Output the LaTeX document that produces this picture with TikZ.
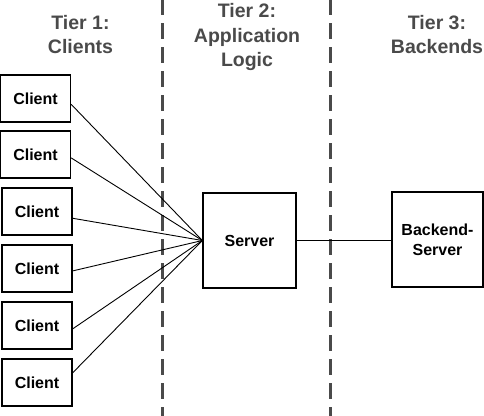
\documentclass[tikz,border=0pt]{standalone}
\usepackage{fontspec}
\setmainfont{Liberation Sans}
\usetikzlibrary{calc}
\definecolor{tiergray}{HTML}{4A4A4A}
\tikzset{
  box/.style={draw=black, line width=1.3pt, fill=white, inner sep=0pt,
    font=\fontsize{16}{20}\selectfont\bfseries, align=center},
  clientbox/.style={box, minimum width=70pt, minimum height=47pt},
  bigbox/.style={box, minimum width=92pt, minimum height=95pt},
  tier/.style={text=tiergray, inner sep=0pt, anchor=north, align=center,
    font=\fontsize{19.5}{24.5}\selectfont\bfseries},
  sep/.style={draw=tiergray, line width=3pt, dash pattern=on 16pt off 8pt},
  link/.style={draw=black, line width=0.9pt}
}
\begin{document}
\begin{tikzpicture}[x=1pt, y=-1pt]
\useasboundingbox (0,0) rectangle (484,415);
\fill[white] (0,0) rectangle (484,415);
% separators
\coordinate (s1t) at (162.5,-1);
\coordinate (s1b) at (162.5,416);
\coordinate (s2t) at (330,-1);
\coordinate (s2b) at (330,416);
\draw[sep] (s1t) -- (s1b);
\draw[sep] (s2t) -- (s2b);
% tier labels
\node[tier] (t1) at (80.5,15) {Tier 1:\\Clients};
\node[tier] (t2) at (247,3.5) {Tier 2:\\Application\\Logic};
\node[tier] (t3) at (437,15) {Tier 3:\\Backends};
% clients
\node[clientbox] (c1) at (35.5,98.5) {Client};
\node[clientbox] (c2) at (35.5,154.5) {Client};
\node[clientbox] (c3) at (37,211.5) {Client};
\node[clientbox] (c4) at (37,268.5) {Client};
\node[clientbox] (c5) at (37,325.5) {Client};
\node[clientbox] (c6) at (37,382.5) {Client};
% server
\node[bigbox, minimum width=93pt] (srv) at (249.5,240.5) {Server};
\node[bigbox, minimum width=91pt] (be) at (437.5,239.5) {Backend-\\Server};
% links
\draw[link] ($(c1.north east)!0.62!(c1.south east)$) -- (srv.west);
\draw[link] ($(c2.north east)!0.57!(c2.south east)$) -- (srv.west);
\draw[link] ($(c3.north east)!0.64!(c3.south east)$) -- (srv.west);
\draw[link] ($(c4.north east)!0.55!(c4.south east)$) -- (srv.west);
\draw[link] ($(c5.north east)!0.57!(c5.south east)$) -- (srv.west);
\draw[link] ($(c6.north east)!0.30!(c6.south east)$) -- (srv.west);
\draw[link] (srv.east) -- (srv.east -| be.west);
\end{tikzpicture}
\end{document}
